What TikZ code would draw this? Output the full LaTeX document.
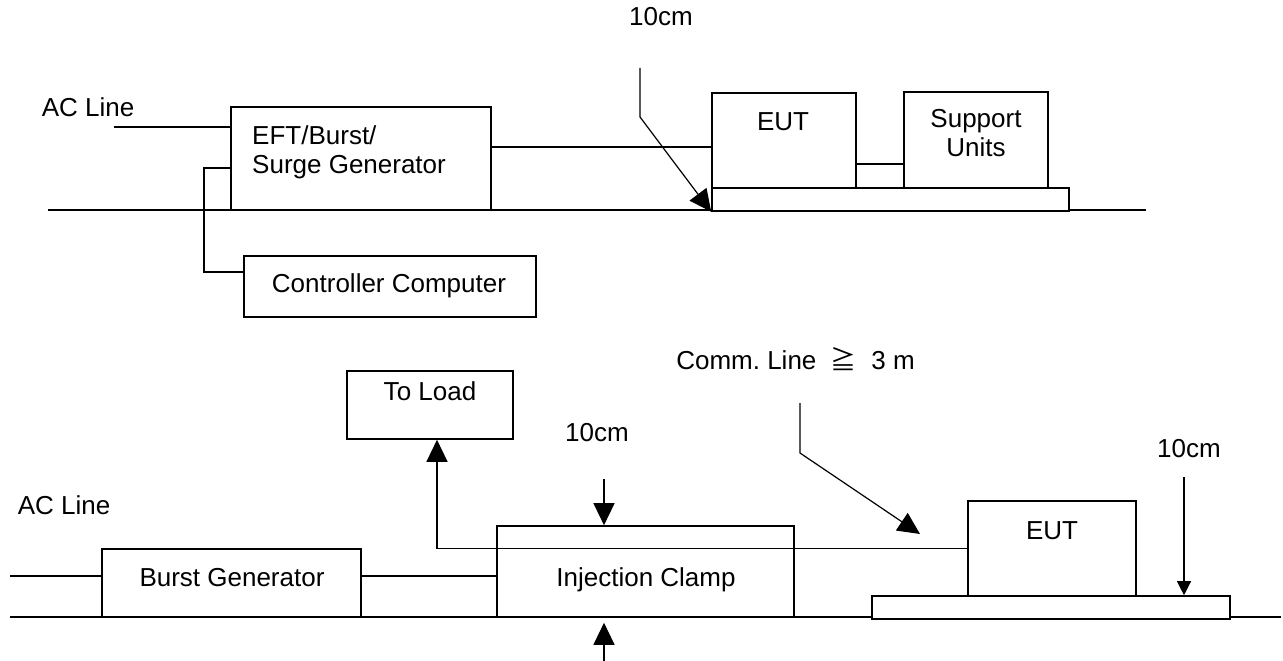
\documentclass[tikz,border=0pt]{standalone}
\usepackage{fontspec}
\setmainfont{Liberation Sans}
\newfontfamily\cjk{Noto Sans CJK SC}
\usetikzlibrary{arrows.meta}

\tikzset{
  box/.style={draw,line width=1.6pt,inner sep=0pt,fill=white},
  lbl/.style={inner sep=0pt,text height=0.72em,text depth=0pt},
  wire/.style={line width=1.6pt},
  pointer/.style={line width=1.2pt,-{Triangle[length=22pt,width=21pt]}},
  smallpointer/.style={line width=1.2pt,-{Triangle[length=14pt,width=14pt]}}
}

\begin{document}
\begin{tikzpicture}[x=1pt,y=-1pt,font=\fontsize{26}{29}\selectfont]
  \useasboundingbox (0,0) rectangle (1283,661);

  % upper set-up
  \draw[wire] (48,210) coordinate (gnda) -- (1146,210) coordinate (gndb);
  \node[box,minimum width=260,minimum height=103] (gen) at (361,158.5) {};
  \node[anchor=north west,align=left,inner sep=0pt] (gentext) at (252,125) {EFT/Burst/\\Surge Generator};
  \node[box,minimum width=292,minimum height=61] (ctrl) at (390,286.5) {};
  \node[lbl] (ctrltext) at (389,289) {Controller Computer};
  \node[box,minimum width=357,minimum height=23] (bencha) at (890.5,199.5) {};
  \node[box,minimum width=144,minimum height=95] (euta) at (784,140.5) {};
  \node[lbl] (eutatext) at (783,126.5) {EUT};
  \node[box,minimum width=144,minimum height=96] (sup) at (976,140) {};
  \node[anchor=north,align=center,inner sep=0pt] (suptext) at (976,109) {Support\\Units};
  \node[lbl] (aclinea) at (88,113) {AC Line};
  \node[lbl] (tencma) at (661,21.5) {10cm};

  \coordinate (acina) at (114,127);
  \draw[wire] (acina) -- (acina -| gen.west);
  \draw[wire] ([yshift=-9.5pt]gen.west) -- ++(-26,0) |- ([yshift=14.5pt]ctrl.west);
  \draw[wire] ([yshift=11.5pt]gen.east) -- ([yshift=11.5pt]gen.east -| euta.west);
  \draw[wire] ([yshift=-23.5pt]euta.east) -- ([yshift=-23.5pt]euta.east -| sup.west);
  \draw[pointer] (640,68) coordinate (tcma) -- (640,117) -- (bencha.south west);

  % lower set-up
  \draw[wire] (10,617) coordinate (gndc) -- (1281,617) coordinate (gndd);
  \node[box,minimum width=259,minimum height=68] (burst) at (231.5,583) {};
  \node[lbl] (bursttext) at (232,582.6) {Burst Generator};
  \node[box,minimum width=166,minimum height=68] (load) at (430,405) {};
  \node[lbl] (loadtext) at (430,396.7) {To Load};
  \node[box,minimum width=297,minimum height=91] (clamp) at (645.5,571.5) {};
  \node[lbl] (clamptext) at (646,582.6) {Injection Clamp};
  \node[box,minimum width=358,minimum height=23] (benchb) at (1051,607.5) {};
  \node[box,minimum width=168,minimum height=95] (eutb) at (1052,548.5) {};
  \node[lbl] (eutbtext) at (1052,536) {EUT};
  \node[lbl] (aclineb) at (64,511) {AC Line};
  \node[lbl] (tencmb) at (597,437.5) {10cm};
  \node[lbl] (tencmc) at (1189,454) {10cm};
  \node[lbl] (comm) at (795.5,366) {Comm.\ Line\ \ {\cjk ≧}\ \ 3 m};

  \coordinate (acinb) at (10,576);
  \draw[wire] (acinb) -- ([yshift=7pt]burst.west);
  \draw[wire] ([yshift=7pt]burst.east) -- ([yshift=7pt]burst.east -| clamp.west);
  \draw[line width=1.4pt,-{Triangle[length=22pt,width=21pt]}] (eutb.west) -| ([xshift=7pt]load.south);
  \draw[pointer] (604,479) coordinate (tcmb) -- ([xshift=-41.5pt]clamp.north);
  \draw[pointer,shorten >=5pt] (604,661) coordinate (tcmd) -- ([xshift=-41.5pt]clamp.south);
  \draw[smallpointer] (1184,477) coordinate (tcmc) -- ([xshift=133pt]benchb.north);
  \draw[pointer] (800,403) coordinate (comma) -- (800,453) -- (920,534) coordinate (commtip);
\end{tikzpicture}
\end{document}
